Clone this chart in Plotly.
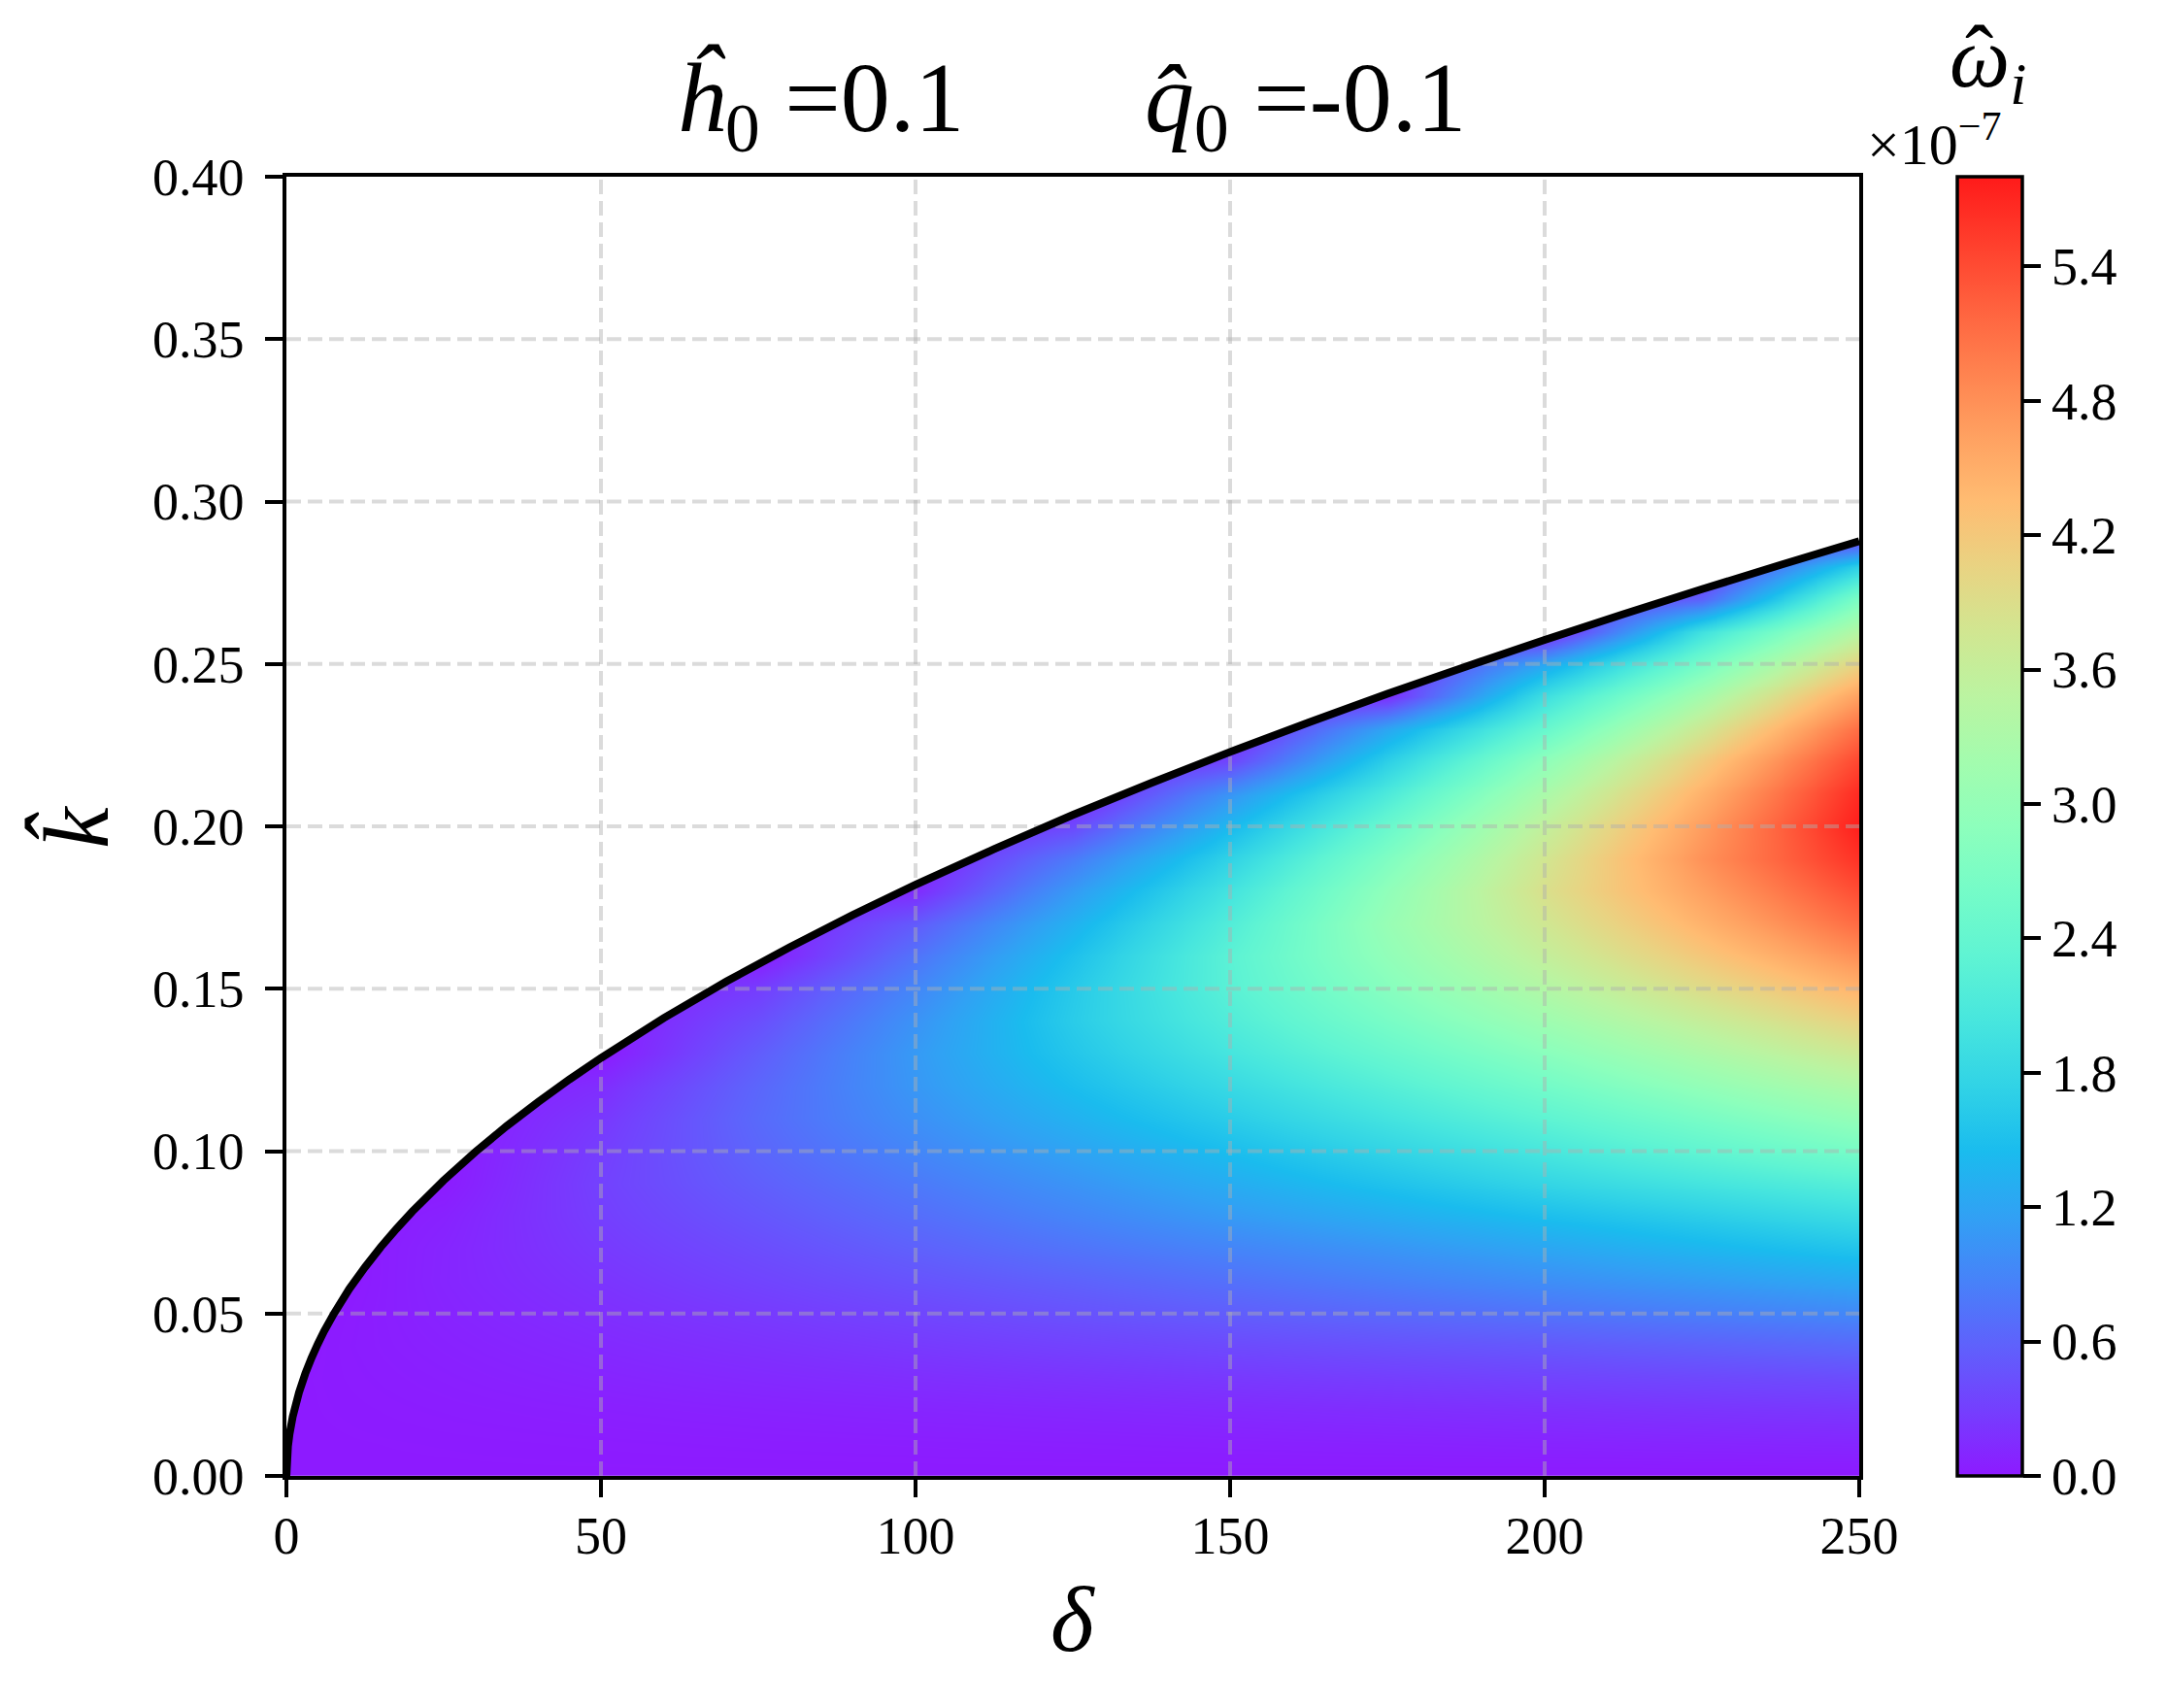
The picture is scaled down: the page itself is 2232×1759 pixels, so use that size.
import numpy as np
import plotly.graph_objects as go

# grid of the stability map
delta_grid = [0, 5, 10, 25, 50, 75, 100, 125, 150, 175, 200, 225, 250]
k_grid = [0.00, 0.01, 0.02, 0.03, 0.04, 0.05, 0.06, 0.07, 0.08, 0.09, 0.10,
          0.11, 0.12, 0.13, 0.14, 0.15, 0.16, 0.17, 0.18, 0.19, 0.20,
          0.21, 0.22, 0.23, 0.24, 0.25, 0.26, 0.27, 0.28, 0.29, 0.30]

# growth rate (units of 1e-7), one list per delta, from k=0 up to the neutral curve
omega_cols = [
    [0.0],
    [0.0, 0.0014, 0.0036, 0.0049, 0.0014],
    [0.0, 0.0028, 0.0081, 0.0137, 0.0179, 0.0130],
    [0.0, 0.0071, 0.0213, 0.0386, 0.0572, 0.0754, 0.0890, 0.0855, 0.0614, 0.0113],
    [0.0, 0.015, 0.042, 0.081, 0.122, 0.169, 0.213, 0.258, 0.296, 0.319, 0.294,
     0.240, 0.157],
    [0.0, 0.024, 0.064, 0.122, 0.188, 0.259, 0.339, 0.414, 0.489, 0.562, 0.620,
     0.658, 0.624, 0.545, 0.425, 0.279],
    [0.0, 0.032, 0.085, 0.163, 0.257, 0.355, 0.466, 0.580, 0.690, 0.799, 0.909,
     1.005, 1.073, 1.097, 1.031, 0.912, 0.740, 0.530, 0.137],
    [0.0, 0.041, 0.106, 0.203, 0.324, 0.455, 0.585, 0.745, 0.895, 1.04, 1.19,
     1.34, 1.47, 1.58, 1.65, 1.62, 1.51, 1.34, 1.10, 0.81, 0.37],
    [0.0, 0.052, 0.131, 0.246, 0.391, 0.551, 0.717, 0.896, 1.10, 1.29, 1.47,
     1.66, 1.84, 2.02, 2.16, 2.26, 2.28, 2.17, 1.99, 1.74, 1.41, 1.04, 0.35],
    [0.0, 0.063, 0.157, 0.288, 0.455, 0.647, 0.849, 1.05, 1.29, 1.53, 1.76,
     1.99, 2.21, 2.44, 2.65, 2.83, 2.96, 3.04, 2.94, 2.74, 2.46, 2.11, 1.69,
     1.21, 0.14],
    [0.0, 0.075, 0.18, 0.33, 0.51, 0.74, 0.98, 1.22, 1.48, 1.78, 2.05,
     2.32, 2.59, 2.86, 3.13, 3.38, 3.59, 3.75, 3.87, 3.77, 3.57, 3.28, 2.92,
     2.43, 1.91, 1.22],
    [0.0, 0.088, 0.21, 0.37, 0.58, 0.84, 1.11, 1.39, 1.67, 2.01, 2.35,
     2.66, 2.98, 3.30, 3.61, 3.93, 4.21, 4.45, 4.64, 4.78, 4.67, 4.46, 4.16,
     3.73, 3.20, 2.61, 1.95, 0.59],
    [0.0, 0.10, 0.235, 0.41, 0.65, 0.93, 1.24, 1.56, 1.88, 2.23, 2.64,
     3.00, 3.36, 3.73, 4.09, 4.45, 4.81, 5.13, 5.39, 5.61, 5.77, 5.67, 5.44,
     5.11, 4.64, 4.07, 3.42, 2.70, 1.72],
]

# neutral stability curve
boundary_delta = [0, 0.25, 0.5, 1, 2, 3, 4, 5, 6, 7.5, 10, 12.5, 15, 17.5, 20,
                  25, 30, 35, 40, 45, 50, 60, 70, 80, 90, 100, 112.5, 125,
                  137.5, 150, 162.5, 175, 187.5, 200, 212.5, 225, 237.5, 250]
boundary_k = [0.0, 0.0091, 0.0129, 0.0182, 0.0257, 0.0315, 0.0364, 0.0407,
              0.0446, 0.0498, 0.0576, 0.0643, 0.0705, 0.0761, 0.0814, 0.0910,
              0.0997, 0.1077, 0.1151, 0.1221, 0.1287, 0.1410, 0.1523, 0.1628,
              0.1727, 0.1820, 0.1930, 0.2035, 0.2134, 0.2229, 0.2320, 0.2408,
              0.2492, 0.2574, 0.2653, 0.2730, 0.2805, 0.2878]

x_ticks = [0, 50, 100, 150, 200, 250]
y_ticks = [0.00, 0.05, 0.10, 0.15, 0.20, 0.25, 0.30, 0.35, 0.40]
cbar_ticks = [0.0, 0.6, 1.2, 1.8, 2.4, 3.0, 3.6, 4.2, 4.8, 5.4]
omega_max = 5.8

# matplotlib 'rainbow' with alpha 0.9 on white
rainbow_stops = [
    (0.00, "rgb(141,26,255)"), (0.05, "rgb(117,62,254)"), (0.10, "rgb(95,97,252)"),
    (0.15, "rgb(71,130,249)"), (0.20, "rgb(49,161,244)"), (0.25, "rgb(26,188,238)"),
    (0.30, "rgb(49,211,230)"), (0.35, "rgb(71,230,222)"), (0.40, "rgb(95,244,211)"),
    (0.45, "rgb(117,252,200)"), (0.50, "rgb(141,255,188)"), (0.55, "rgb(163,252,174)"),
    (0.60, "rgb(187,244,161)"), (0.65, "rgb(209,230,145)"), (0.70, "rgb(233,211,130)"),
    (0.75, "rgb(255,188,114)"), (0.80, "rgb(255,161,97)"), (0.85, "rgb(255,130,79)"),
    (0.90, "rgb(255,97,62)"), (0.95, "rgb(255,62,44)"), (1.00, "rgb(255,26,26)"),
]

FONT = "Liberation Serif"
W, H = 2232, 1759
# page body has an 8px margin, so pull the plot area back by that much
L, R, T, B = 287, 325, 174, 247
PW = W - L - R
PH = H - T - B

n_k = len(k_grid)
z = np.array([col + [0.0] * (n_k - len(col)) for col in omega_cols]).T

fig = go.Figure()

fig.add_trace(go.Heatmap(
    x=delta_grid, y=k_grid, z=z,
    zsmooth="best", zmin=0, zmax=omega_max,
    colorscale=[[s, c] for s, c in rainbow_stops],
    hoverinfo="skip",
    colorbar=dict(
        x=(2008 - L) / PW, xanchor="left", xpad=0,
        y=0.5, yanchor="middle", ypad=0, len=1, lenmode="fraction",
        thickness=67, thicknessmode="pixels",
        outlinewidth=3.5, outlinecolor="black",
        tickvals=cbar_ticks, ticktext=[f"{v:.1f}" for v in cbar_ticks],
        ticks="outside", ticklen=18, tickwidth=3.5, tickcolor="black",
        tickfont=dict(family=FONT, size=54, color="black"),
    ),
))

# white out the stable region above the neutral curve
fig.add_trace(go.Scatter(
    x=boundary_delta, y=boundary_k, mode="lines", line=dict(width=0),
    hoverinfo="skip", showlegend=False,
))
fig.add_trace(go.Scatter(
    x=boundary_delta, y=[y_ticks[-1]] * len(boundary_delta), mode="lines",
    line=dict(width=0), fill="tonexty", fillcolor="white",
    hoverinfo="skip", showlegend=False,
))

# dashed grid drawn over the map, then the neutral curve on top
grid_style = dict(color="rgba(176,176,176,0.45)", width=4, dash="15px,7px")
shapes = []
for xv in x_ticks[1:-1]:
    shapes.append(dict(type="line", xref="x", yref="y", x0=xv, x1=xv,
                       y0=y_ticks[0], y1=y_ticks[-1], line=grid_style, layer="above"))
for yv in y_ticks[1:-1]:
    shapes.append(dict(type="line", xref="x", yref="y", x0=x_ticks[0], x1=x_ticks[-1],
                       y0=yv, y1=yv, line=grid_style, layer="above"))
path = "M " + " L ".join(f"{d},{k}" for d, k in zip(boundary_delta, boundary_k))
shapes.append(dict(type="path", xref="x", yref="y", path=path,
                   line=dict(color="black", width=8), layer="above"))

axis_common = dict(
    showgrid=False, zeroline=False, showline=True, linecolor="black",
    linewidth=3.5, mirror=True, ticks="outside", ticklen=18, tickwidth=3.5,
    tickcolor="black", tickfont=dict(family=FONT, size=54, color="black"),
)

fig.update_layout(
    width=W, height=H, margin=dict(l=L, r=R, t=T, b=B),
    paper_bgcolor="white", plot_bgcolor="white",
    showlegend=False, shapes=shapes,
    xaxis=dict(range=[x_ticks[0], x_ticks[-1]], tickvals=x_ticks,
               ticklabelstandoff=-7, **axis_common),
    yaxis=dict(range=[y_ticks[0], y_ticks[-1]], tickvals=y_ticks,
               ticktext=[f"{v:.2f}" for v in y_ticks], ticklabelstandoff=11,
               **axis_common),
)


def py(fig_y):
    # figure pixel row -> paper y
    return (T + PH - fig_y) / PH


big = dict(family=FONT, size=102, color="black")
fig.add_annotation(text="<i>ĥ</i><sub>0</sub> =0.1", xref="paper", yref="paper",
                   x=0.339, y=1.007, xanchor="center", yanchor="bottom",
                   showarrow=False, font=big)
fig.add_annotation(text="<i>q\u0302</i><sub>0</sub> =-0.1", xref="paper", yref="paper",
                   x=0.648, y=1.007, xanchor="center", yanchor="bottom",
                   showarrow=False, font=big)
fig.add_annotation(text="<i>δ</i>", xref="paper", yref="paper",
                   x=0.5, y=-0.110, xanchor="center", yanchor="middle",
                   showarrow=False, font=dict(family=FONT, size=96, color="black"))
fig.add_annotation(text="<i>k\u0302</i>", xref="paper", yref="paper",
                   x=-0.134, y=0.5, xanchor="center", yanchor="middle",
                   textangle=-90, showarrow=False,
                   font=dict(family=FONT, size=96, color="black"))
# colorbar label: omega_i with a hat placed over the omega
fig.add_annotation(text="<i>ω<sub>i</sub></i>", xref="paper", yref="paper",
                   x=1.082, y=py(58), xanchor="center", yanchor="middle",
                   showarrow=False, font=dict(family=FONT, size=88, color="black"))
fig.add_annotation(text="ˆ", xref="paper", yref="paper",
                   x=1.0765, y=py(50), xanchor="center", yanchor="middle",
                   showarrow=False, font=dict(family=FONT, size=88, color="black"))
fig.add_annotation(text="×10<sup>−7</sup>", xref="paper", yref="paper",
                   x=1.004, y=0.9985, xanchor="left", yanchor="bottom",
                   showarrow=False, font=dict(family=FONT, size=60, color="black"))

fig.write_html("out.html")
